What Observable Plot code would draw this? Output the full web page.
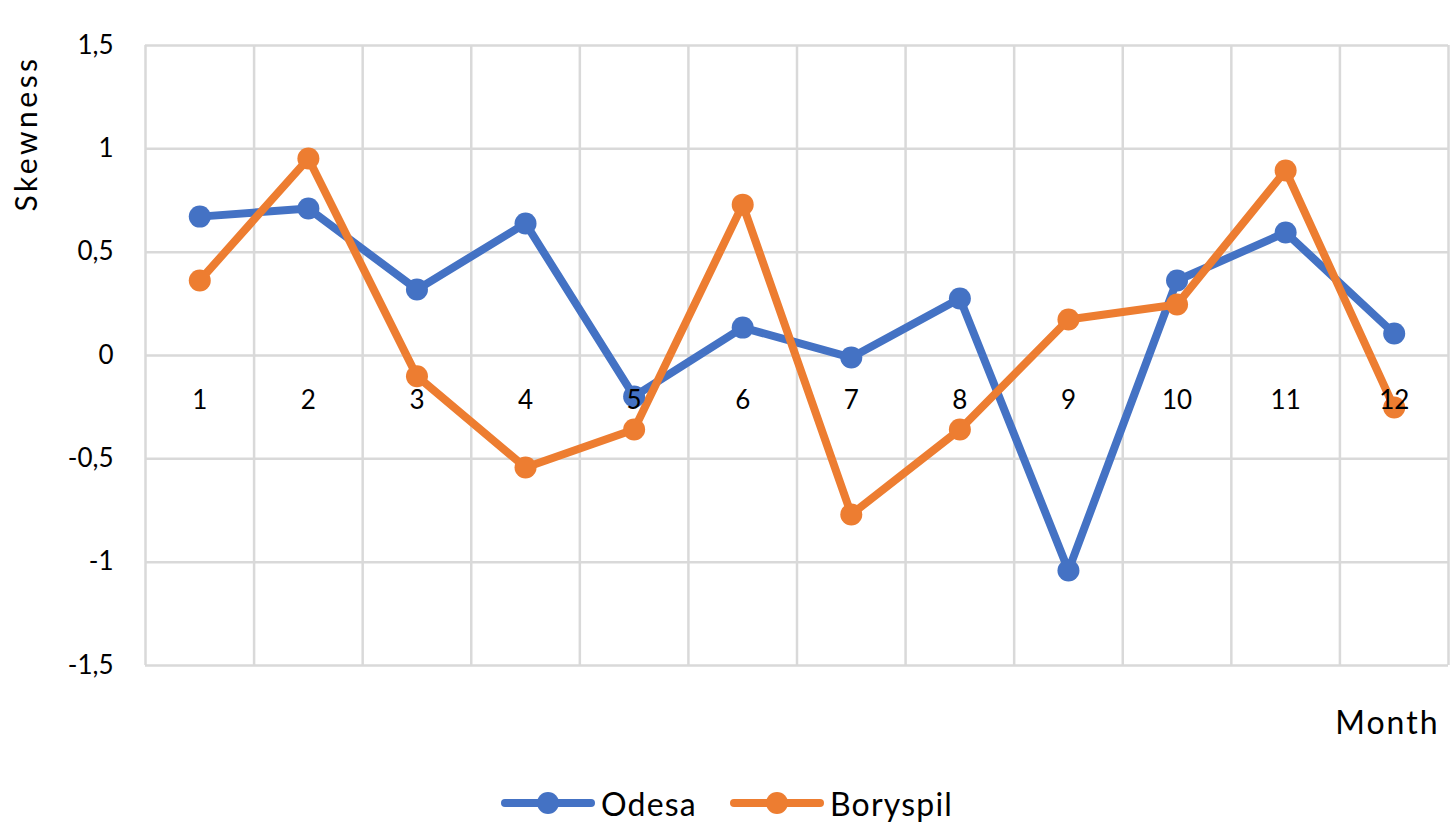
<!DOCTYPE html>
<html>
<head>
<meta charset="utf-8">
<script src="https://cdn.jsdelivr.net/npm/d3@7"></script>
<script src="https://cdn.jsdelivr.net/npm/@observablehq/plot@0.6"></script>
<style>
  html, body { margin: 0; padding: 0; background: #fff; }
  #chart { width: 1450px; }
  .title-text text { letter-spacing: 3.5px; }
  .month-text text { letter-spacing: 2px; }
  .legend { height: 52px; display: flex; justify-content: center; align-items: center; padding-top: 14px; box-sizing: border-box;
    font-family: Lato, "Open Sans", sans-serif; font-size: 32px; letter-spacing: 1.2px; color: #000; padding-left: 4px; }
  .legend .item { display: flex; align-items: center; }
  .legend svg { margin-right: 6px; }
</style>
</head>
<body>
<div id="chart"></div>
<script>
const months = [1, 2, 3, 4, 5, 6, 7, 8, 9, 10, 11, 12];
const odesa = [0.672, 0.711, 0.319, 0.639, -0.198, 0.135, -0.01, 0.276, -1.04, 0.363, 0.595, 0.106];
const boryspil = [0.363, 0.953, -0.10, -0.542, -0.358, 0.73, -0.769, -0.358, 0.174, 0.247, 0.895, -0.252];
const seriesNames = ["Odesa", "Boryspil"];
const seriesColors = ["#4472C4", "#ED7D31"];
const yTicks = [-1.5, -1, -0.5, 0, 0.5, 1, 1.5];
const xBoundaries = [0.5, 1.5, 2.5, 3.5, 4.5, 5.5, 6.5, 7.5, 8.5, 9.5, 10.5, 11.5, 12.5];

const data = [];
months.forEach((m, i) => {
  data.push({month: m, value: odesa[i], series: seriesNames[0]});
  data.push({month: m, value: boryspil[i], series: seriesNames[1]});
});

const fmt = v => String(v).replace(".", ",");
const font = "Lato, 'Open Sans', sans-serif";

const chart = Plot.plot({
  width: 1450,
  height: 770,
  marginLeft: 145,
  marginRight: 2,
  marginTop: 45,
  marginBottom: 105,
  style: {fontFamily: font, fontSize: "26px", color: "#000", background: "#fff"},
  x: {domain: [0.5, 12.5], axis: null},
  y: {domain: [-1.5, 1.5], axis: null},
  color: {domain: seriesNames, range: seriesColors},
  marks: [
    Plot.ruleY(yTicks, {stroke: "#d9d9d9", strokeWidth: 2.5}),
    Plot.ruleX(xBoundaries, {stroke: "#d9d9d9", strokeWidth: 2.5}),
    Plot.axisY({ticks: yTicks, tickFormat: fmt, tickSize: 0, tickPadding: 32, label: null, fontSize: 26}),
    Plot.line(data, {x: "month", y: "value", z: "series", stroke: "series", strokeWidth: 8, strokeLinejoin: "round"}),
    Plot.dot(data, {x: "month", y: "value", fill: "series", r: 11}),
    Plot.text(months, {x: d => d, y: () => 0, dy: 45, text: d => String(d), fontSize: 26, fill: "#000"}),
    Plot.text(["Skewness"], {frameAnchor: "top-left", dx: -130, dy: 88, rotate: -90, textAnchor: "middle", fontSize: 30, fill: "#000", className: "title-text"}),
    Plot.text(["Month"], {frameAnchor: "bottom-right", dx: -9, dy: 68, textAnchor: "end", fontSize: 32, fill: "#000", className: "month-text"})
  ]
});
document.getElementById("chart").appendChild(chart);

const legend = document.createElement("div");
legend.className = "legend";
seriesNames.forEach((name, i) => {
  const item = document.createElement("div");
  item.className = "item";
  item.style.marginRight = i === 0 ? "33px" : "0";
  item.innerHTML = `<svg width="94" height="24"><line x1="4" y1="12" x2="90" y2="12" stroke="${seriesColors[i]}" stroke-width="8" stroke-linecap="round"/><circle cx="47" cy="12" r="11" fill="${seriesColors[i]}"/></svg><span>${name}</span>`;
  legend.appendChild(item);
});
document.body.appendChild(legend);
</script>
</body>
</html>
